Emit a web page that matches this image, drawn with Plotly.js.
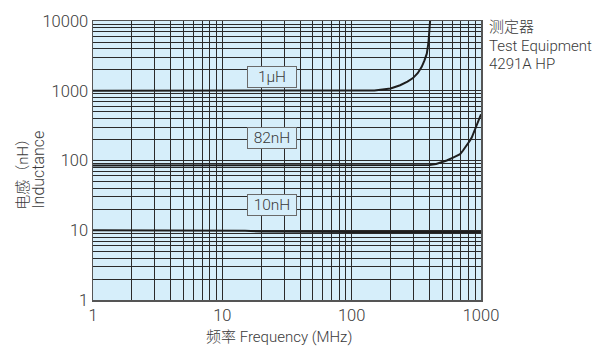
<!DOCTYPE html>
<html>
<head>
<meta charset="utf-8">
<script src="https://cdn.plot.ly/plotly-3.0.1.min.js"></script>
<style>html,body{margin:0;padding:0;background:#fff;}#chart{width:596px;height:347px;}</style>
</head>
<body>
<div id="chart"></div>
<script>
// Frequency (MHz) and inductance (nH)
const freq1uH = [1, 10, 100, 150, 200, 237, 270, 298, 325, 348, 365, 381, 392, 398, 402, 405, 407];
const ind1uH  = [1000, 1000, 1000, 1010, 1080, 1200, 1350, 1520, 1800, 2200, 2700, 3400, 4800, 6500, 8500, 10500, 12000];

const freq82nH = [1, 100, 300, 400, 450, 500, 543, 608, 689, 726, 780, 822, 848, 927, 1000];
const ind82nH  = [85, 85, 85, 86, 89, 94, 100, 110, 123, 139, 165, 193, 213, 316, 460];

const freq10nH = [1, 10, 15, 20, 50, 100, 1000];
const ind10nH  = [10, 10, 9.8, 9.6, 9.4, 9.4, 9.4];

const seriesLabels = ["1μH", "82nH", "10nH"];

const xTickVals = [1,2,3,4,5,6,7,8,9,10,20,30,40,50,60,70,80,90,100,200,300,400,500,600,700,800,900,1000];
const xTickText = ["1","","","","","","","","","10","","","","","","","","","100","","","","","","","","","1000"];
const yTickVals = [1,2,3,4,5,6,7,8,9,10,20,30,40,50,60,70,80,90,100,200,300,400,500,600,700,800,900,1000,2000,3000,4000,5000,6000,7000,8000,9000,10000];
const yTickText = ["1","","","","","","","","","10","","","","","","","","","100","","","","","","","","","1000","","","","","","","","","10000"];

const xTitle = "频率 Frequency (MHz)";
const yTitleCn = "电感（nH）";
const yTitleEn = "Inductance";
const noteLines = ["测定器", "Test Equipment", "4291A HP"];

const FONT = "Roboto, 'Liberation Sans', 'Noto Sans CJK SC', sans-serif";
const TXT = "#3a3a3a";
const W = 300;
const lineStyle = {color: "#1e1e1e", width: 2};

const traces = [
  {x: freq1uH, y: ind1uH, mode: "lines", line: lineStyle, name: seriesLabels[0]},
  {x: freq82nH, y: ind82nH, mode: "lines", line: lineStyle, name: seriesLabels[1]},
  {x: freq10nH, y: ind10nH, mode: "lines", line: lineStyle, name: seriesLabels[2]}
];

const boxStyle = {xref: "paper", yref: "paper", showarrow: false, bgcolor: "#d6eefa", bordercolor: "#6a6a6a",
  borderwidth: 1, borderpad: 1, width: 46, height: 18, font: {family: FONT, size: 15.5, color: TXT, weight: W}};

const txt = (size) => ({family: FONT, size: size, color: TXT, weight: W});

const annotations = [
  Object.assign({}, boxStyle, {x: 0.462, y: 0.839, text: seriesLabels[0]}),
  Object.assign({}, boxStyle, {x: 0.462, y: 0.582, text: seriesLabels[1]}),
  Object.assign({}, boxStyle, {x: 0.462, y: 0.342, text: seriesLabels[2]}),
  {xref: "paper", yref: "paper", x: 0.48, y: -0.133, text: xTitle, showarrow: false,
   xanchor: "center", yanchor: "middle", font: txt(15)},
  {xref: "paper", yref: "paper", x: -0.181, y: 0.466, text: yTitleCn, showarrow: false, textangle: -90,
   xanchor: "center", yanchor: "middle", font: txt(15)},
  {xref: "paper", yref: "paper", x: -0.140, y: 0.466, text: yTitleEn, showarrow: false, textangle: -90,
   xanchor: "center", yanchor: "middle", font: txt(16)},
  {xref: "paper", yref: "paper", x: 1.0154, y: 0.978, text: noteLines[0], showarrow: false,
   xanchor: "left", yanchor: "middle", font: txt(15)},
  {xref: "paper", yref: "paper", x: 1.0154, y: 0.912, text: noteLines[1], showarrow: false,
   xanchor: "left", yanchor: "middle", font: txt(15)},
  {xref: "paper", yref: "paper", x: 1.0154, y: 0.846, text: noteLines[2], showarrow: false,
   xanchor: "left", yanchor: "middle", font: txt(15)}
];

const layout = {
  width: 596, height: 347,
  margin: {l: 92.5, r: 115, t: 21, b: 47, pad: 0},
  paper_bgcolor: "#ffffff",
  plot_bgcolor: "#d6eefa",
  showlegend: false,
  font: txt(16),
  xaxis: {
    type: "log", range: [0, 3], tickmode: "array", tickvals: xTickVals, ticktext: xTickText,
    showgrid: true, gridcolor: "#2a2a2a", gridwidth: 1, zeroline: false,
    showline: true, mirror: true, linecolor: "#555", linewidth: 1.5,
    ticks: "", tickfont: txt(16.5), fixedrange: true
  },
  yaxis: {
    type: "log", range: [0, 4], tickmode: "array", tickvals: yTickVals, ticktext: yTickText,
    showgrid: true, gridcolor: "#2a2a2a", gridwidth: 1, zeroline: false,
    showline: true, mirror: true, linecolor: "#555", linewidth: 1.5,
    ticks: "", tickfont: txt(16.5), fixedrange: true
  },
  annotations: annotations
};

Plotly.newPlot("chart", traces, layout, {staticPlot: true, displayModeBar: false});
</script>
</body>
</html>
